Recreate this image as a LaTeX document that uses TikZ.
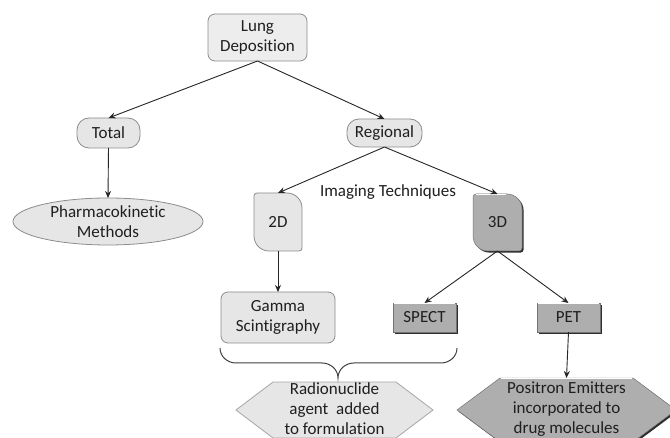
\documentclass[tikz,border=0pt]{standalone}
\usepackage{fontspec}
\setmainfont[Ligatures=NoCommon]{Carlito}
\usetikzlibrary{arrows.meta,calc,shapes.geometric}
\definecolor{lightfill}{HTML}{E6E6E6}
\definecolor{lightdraw}{HTML}{8C8C8C}
\definecolor{darkfill}{HTML}{AEAEAE}
\definecolor{shadowc}{HTML}{2E2E2E}
\tikzset{
  lbl/.style={font=\fontsize{17}{20}\selectfont, align=center, inner sep=0pt, outer sep=0pt, text=black!88},
  light/.style={lbl, draw=lightdraw, fill=lightfill, line width=0.8pt},
  geom/.style={inner sep=0pt, outer sep=0pt},
  arr/.style={-{Stealth[length=7pt,width=6pt]}, line width=0.9pt, black!85},
  leafp/.style={insert path={($(#1.north west)+(3pt,0)$) -- ($(#1.north east)+(-15pt,0)$)
     arc[start angle=90,end angle=0,radius=15pt] -- ($(#1.south east)+(0,3pt)$)
     arc[start angle=0,end angle=-90,radius=3pt] -- ($(#1.south west)+(15pt,0)$)
     arc[start angle=270,end angle=180,radius=15pt] -- ($(#1.north west)+(0,-3pt)$)
     arc[start angle=180,end angle=90,radius=3pt] -- cycle}},
  hexp/.style 2 args={insert path={(#1.west) -- ($(#1.north west)+(#2,0)$) -- ($(#1.north east)+(-#2,0)$)
     -- (#1.east) -- ($(#1.south east)+(-#2,0)$) -- ($(#1.south west)+(#2,0)$) -- cycle}},
  rectp/.style={insert path={(#1.south west) rectangle (#1.north east)}},
  sh/.style={fill=shadowc, transform canvas={shift={(1.6pt,-1.6pt)}}},
}
\begin{document}
\begin{tikzpicture}[x=1pt,y=1pt]
\useasboundingbox (0,0) rectangle (670,437);
\clip (0,0) rectangle (670,437);
\fill[white] (0,0) rectangle (670,437);

% plain rounded nodes
\node[light, rounded corners=7pt, minimum width=99pt, minimum height=47pt, fill=black!7] (lung) at (257.5,399.5) {Lung\\Deposition};
\node[light, rounded corners=12pt, minimum width=63pt, minimum height=30pt] (total) at (108.5,304) {Total};
\node[light, rounded corners=12pt, minimum width=75pt, minimum height=28pt] (regional) at (384.5,304) {Regional};
\node[light, ellipse, minimum width=190pt, minimum height=47pt] (pharma) at (108,215.5) {Pharmacokinetic\\Methods};
\node[light, rounded corners=7pt, minimum width=114pt, minimum height=51pt] (gamma) at (278,119.5) {Gamma\\Scintigraphy};

% geometry boxes for custom shapes
\node[geom, minimum width=48pt, minimum height=58pt] (d2) at (278,215) {};
\node[geom, minimum width=49pt, minimum height=57pt] (d3) at (497.5,214.5) {};
\node[geom, minimum width=63pt, minimum height=29pt] (spect) at (424.5,119.5) {};
\node[geom, minimum width=63pt, minimum height=29pt] (pet) at (568.5,119.5) {};
\node[geom, minimum width=197pt, minimum height=56pt] (radio) at (334.5,27) {};
\node[geom, minimum width=219pt, minimum height=64pt] (pos) at (566.5,27) {};

% shapes
\draw[draw=lightdraw, fill=lightfill, line width=0.8pt, leafp=d2];
\fill[sh, leafp=d3];
\draw[draw=black!55, fill=darkfill, line width=0.5pt, leafp=d3];
\draw[white, line width=1.2pt] ($(d3.north west)+(3pt,-0.8pt)$) -- ($(d3.north east)+(-16pt,-0.8pt)$);
\fill[sh, rectp=spect];
\draw[draw=black!55, fill=darkfill, line width=0.5pt, rectp=spect];
\fill[sh, rectp=pet];
\draw[draw=black!55, fill=darkfill, line width=0.5pt, rectp=pet];
\draw[draw=black!35, fill=lightfill, line width=0.8pt, hexp={radio}{37pt}];
\fill[sh, hexp={pos}{43pt}];
\draw[draw=black!55, fill=darkfill, line width=0.5pt, hexp={pos}{43pt}];
\draw[white, line width=1.2pt] ($(spect.north west)+(1pt,-0.8pt)$) -- ($(spect.north east)+(-1pt,-0.8pt)$);
\draw[white, line width=1.2pt] ($(pet.north west)+(1pt,-0.8pt)$) -- ($(pet.north east)+(-1pt,-0.8pt)$);
\draw[white, line width=1.2pt] ($(pos.north west)+(44pt,-0.8pt)$) -- ($(pos.north east)+(-44pt,-0.8pt)$);

% texts on custom shapes
\node[lbl] (d2t) at (d2) {2D};
\node[lbl] (d3t) at (d3) {3D};
\node[lbl] (spectt) at (spect) {SPECT};
\node[lbl] (pett) at (pet) {PET};
\node[lbl] (radiot) at ($(radio)+(0,1)$) {Radionuclide\\agent\ \ added\\to formulation};
\node[lbl] (post) at ($(pos)+(0,1)$) {Positron Emitters\\incorporated to\\drug molecules};
\node[lbl] (imaging) at (388,245) {Imaging Techniques};

% connectors
\draw[arr] (lung.south) -- (total.north);
\draw[arr] (lung.south) -- (regional.north);
\draw[arr] (total.south) -- (pharma.north);
\draw[arr] (regional.south) -- (d2.north);
\draw[arr] (regional.south) -- (d3.north);
\draw[arr] (d2.south) -- (gamma.north);
\draw[arr] (d3.south) -- (spect.north);
\draw[arr] (d3.south) -- (pet.north);
\draw[arr] (pet.south) -- (pos.north);

% brace
\draw[black!75, line width=1pt] (220,89) to[out=-90,in=180] (236,74) -- (322,74)
   to[out=0,in=90] (338,59) to[out=90,in=180] (354,74) -- (441,74) to[out=0,in=-90] (457,89);
\end{tikzpicture}
\end{document}
